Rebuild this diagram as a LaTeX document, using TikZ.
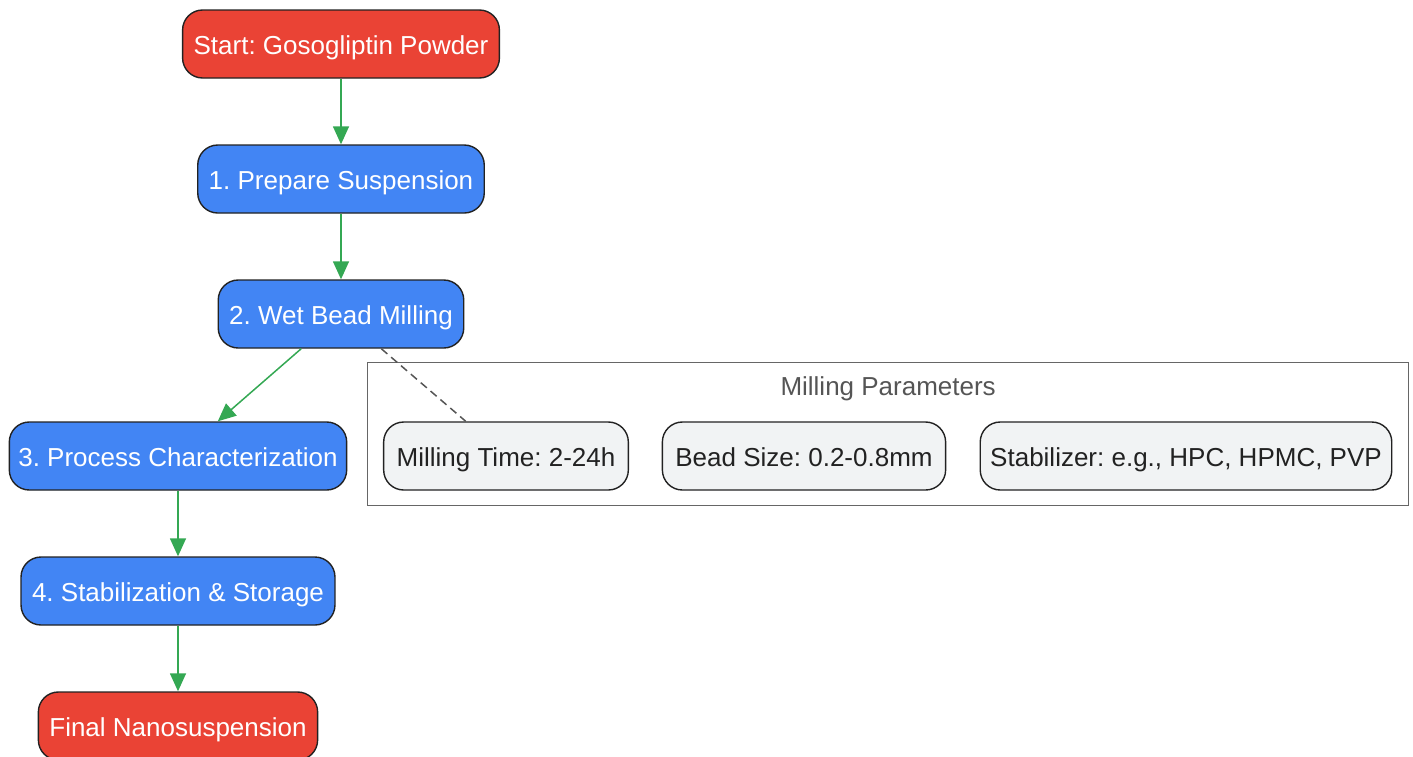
\documentclass[tikz,border=0pt]{standalone}
\usepackage{fontspec}
\setmainfont{Liberation Sans}
\usepackage{xcolor}
\usepackage{tikz}
\usetikzlibrary{arrows.meta,positioning}
\definecolor{ink}{HTML}{222222}
\definecolor{muted}{HTML}{555555}
\definecolor{boxline}{HTML}{666666}
\definecolor{red}{HTML}{EA4335}
\definecolor{blue}{HTML}{4285F4}
\definecolor{green}{HTML}{34A853}
\definecolor{palegray}{HTML}{F1F3F4}
\tikzset{
  >={Triangle[length=18pt,width=16pt]},
  stepbox/.style={draw=ink,rounded corners=20pt,line width=1.4pt,minimum height=68pt,
    inner xsep=11pt,text height=20pt,text depth=0pt,
    font=\fontsize{26}{30}\selectfont\frenchspacing,text=white},
  endbox/.style={stepbox,fill=red},
  midbox/.style={stepbox,fill=blue},
  parambox/.style={stepbox,fill=palegray,text=ink,inner xsep=13pt},
  cluster/.style={draw=boxline,line width=1.3pt,fill=none},
  flow/.style={->,line width=1.5pt,color=green},
  link/.style={line width=1.5pt,color=muted,dash pattern=on 8pt off 5pt},
}

\begin{document}
\begin{tikzpicture}[x=1pt,y=1pt]
  \useasboundingbox (0,0) rectangle (1413,-756);

  % main line of steps
  \node[endbox] (start) at (341,-44) {Start: Gosogliptin Powder};
  \node[midbox] (prep) at (341,-179) {1. Prepare Suspension};
  \node[midbox] (mill) at (341,-314) {2. Wet Bead Milling};
  \node[midbox,inner xsep=9pt] (char) at (178,-456) {3. Process Characterization};
  \node[midbox] (stab) at (178,-591) {4. Stabilization \& Storage};
  \node[endbox] (final) at (178,-726) {Final Nanosuspension};

  % milling parameters group
  \node[cluster,minimum width=1041pt,minimum height=143pt,anchor=north west]
    (params) at (367,-362) {};
  \node[font=\fontsize{26}{30}\selectfont,text=muted,text height=20pt,text depth=0pt,
    below=10pt of params.north] (paramtitle) {Milling Parameters};
  \node[parambox] (time) at (506,-456) {Milling Time: 2-24h};
  \node[parambox] (bead) at (804,-456) {Bead Size: 0.2-0.8mm};
  \node[parambox,inner xsep=10pt] (stabilizer) at (1186,-456) {Stabilizer: e.g., HPC, HPMC, PVP};

  \draw[flow] (start) -- (prep);
  \draw[flow] (prep) -- (mill);
  \draw[flow] (mill) -- (char);
  \draw[flow] (char) -- (stab);
  \draw[flow] (stab) -- (final);
  \draw[link] (mill) -- (time);
\end{tikzpicture}
\end{document}
